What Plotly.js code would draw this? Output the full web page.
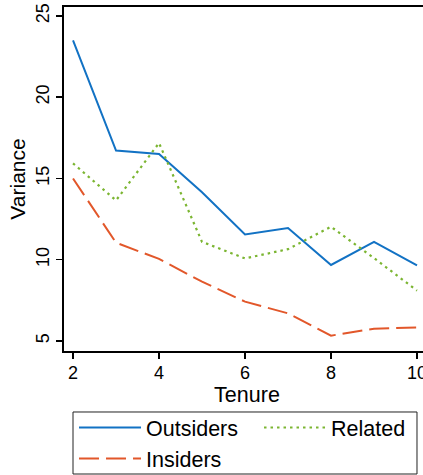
<!DOCTYPE html>
<html><head><meta charset="utf-8">
<script src="https://cdn.plot.ly/plotly-3.0.1.min.js"></script>
<style>html,body{margin:0;padding:0;overflow:hidden;background:#fff;width:423px;height:475px}#chart{width:470px;height:475px}</style>
</head><body><div id="chart"></div>
<script>
const tenure = [2, 3, 4, 5, 6, 7, 8, 9, 10];
const outsiders = [23.5, 16.72, 16.5, 14.15, 11.55, 11.95, 9.68, 11.1, 9.65];
const related = [15.93, 13.65, 17.18, 11.1, 10.08, 10.65, 12.03, 10.1, 8.1];
const insiders = [15.0, 11.05, 10.05, 8.65, 7.42, 6.7, 5.33, 5.76, 5.84];
const xTicks = [2, 4, 6, 8, 10];
const yTicks = [5, 10, 15, 20, 25];

const font = "Arial, 'Liberation Sans', sans-serif";
const traces = [
  {x: tenure, y: outsiders, name: 'Outsiders', mode: 'lines', line: {color: '#1272c4', width: 2}},
  {x: tenure, y: related, name: 'Related', mode: 'lines', line: {color: '#7bb531', width: 2.2, dash: '2.5px,4px'}},
  {x: tenure, y: insiders, name: 'Insiders', mode: 'lines', line: {color: '#e2572a', width: 2, dash: '20px,7px'}}
];
const layout = {
  width: 470, height: 475,
  margin: {l: 64, r: 10, t: 7, b: 124, autoexpand: false},
  paper_bgcolor: '#fff', plot_bgcolor: '#fff',
  font: {family: font, color: '#000', size: 18},
  showlegend: true,
  legend: {orientation: 'h', x: 0.0253, xanchor: 'left', y: -0.1628, yanchor: 'top',
    borderwidth: 0, bgcolor: 'rgba(0,0,0,0)', font: {size: 21.5, family: font},
    entrywidth: 108, entrywidthmode: 'pixels', traceorder: 'normal', itemwidth: 62},
  shapes: [{type: 'rect', xref: 'paper', yref: 'paper', x0: 0.02273, x1: 0.8914, y0: -0.3576, y1: -0.1773,
    line: {color: '#222', width: 1}, fillcolor: 'rgba(0,0,0,0)', layer: 'below'}],
  xaxis: {domain: [0, 0.92424], range: [1.79, 10.302], tickvals: xTicks, ticktext: xTicks.map(String),
    showgrid: false, zeroline: false, showline: true, linecolor: '#000', linewidth: 2, mirror: true,
    ticks: 'outside', ticklen: 6, tickwidth: 1.5, tickcolor: '#000', tickfont: {size: 18}, ticklabelstandoff: -2,
    title: {text: 'Tenure', font: {size: 21.5}, standoff: 0}},
  yaxis: {range: [4.385, 25.55], tickvals: yTicks, ticktext: yTicks.map(String),
    showgrid: false, zeroline: false, showline: true, linecolor: '#000', linewidth: 2, mirror: true,
    ticks: 'outside', ticklen: 6, tickwidth: 1.5, tickcolor: '#000', tickfont: {size: 18}, tickangle: -90,
    title: {text: 'Variance', font: {size: 21}, standoff: 1}}
};
Plotly.newPlot('chart', traces, layout, {staticPlot: true, displayModeBar: false});
</script></body></html>
